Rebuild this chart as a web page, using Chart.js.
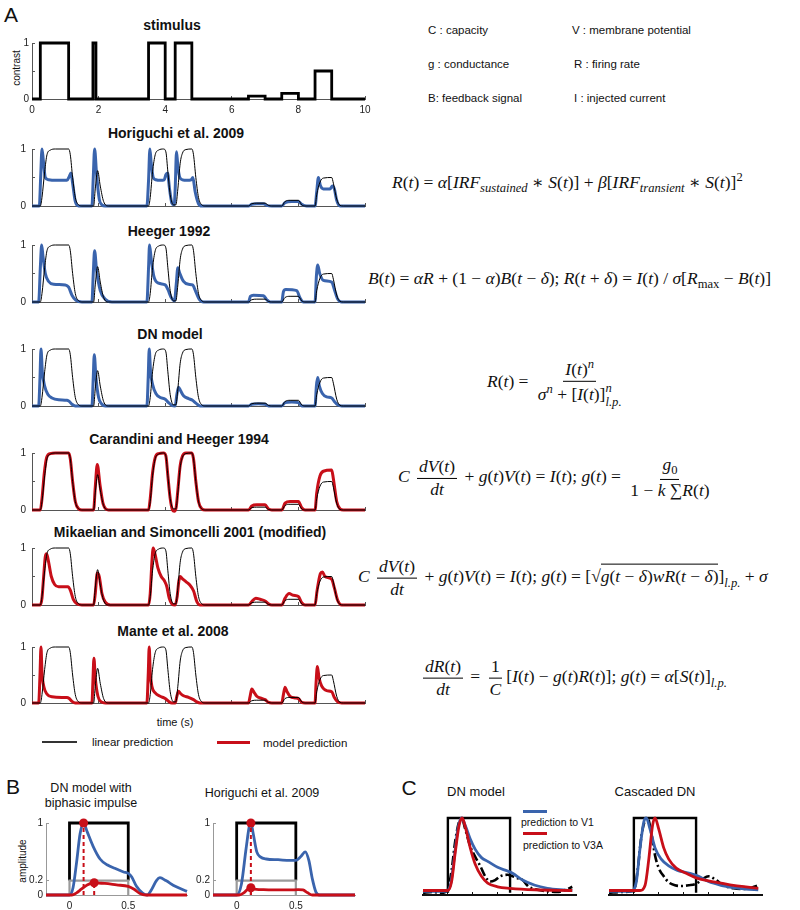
<!DOCTYPE html>
<html>
<head>
<meta charset="utf-8">
<script src="https://cdn.jsdelivr.net/npm/chart.js@4"></script>
<style>
  body { margin: 0; background: #fff; }
  #fig { position: relative; width: 800px; height: 910px; overflow: hidden; font-family: "Liberation Sans", Arial, sans-serif; color: #111; }
  .t { position: absolute; white-space: nowrap; transform: translate(0, -50%); }
  .c { position: absolute; white-space: nowrap; transform: translate(-50%, -50%); }
  .ttl { font-weight: bold; font-size: 14px; }
  .rot { position: absolute; white-space: nowrap; transform: translate(-50%, -50%) rotate(-90deg); font-size: 10px; }
  .eq { position: absolute; white-space: nowrap; transform: translate(0, -50%); font-family: "Liberation Serif", "DejaVu Serif", serif; font-size: 17.5px; font-style: italic; }
  .eq .u { font-style: normal; }
  .eq sub, .eq sup { font-size: 0.72em; }
  .frac { display: inline-flex; flex-direction: column; align-items: center; vertical-align: middle; margin: 0 3px; }
  .frac > span { padding: 0 2px; line-height: 1.25; }
  .frac > span:first-child { border-bottom: 1px solid #000; }
  .ss { display: inline-flex; flex-direction: column; vertical-align: middle; font-size: 0.72em; line-height: 1.1; }
  .ov { border-top: 1px solid #000; padding-top: 1px; }
  .line { position: absolute; }
</style>
</head>
<body>
<div id="fig">
  <div class="c" style="left:11px;top:15px;font-size:21px">A</div>
  <div class="c" style="left:13px;top:787px;font-size:21px">B</div>
  <div class="c" style="left:409px;top:788px;font-size:21px">C</div>

  <div class="c ttl" style="left:172px;top:25px">stimulus</div>
  <div class="c ttl" style="left:176px;top:133px">Horiguchi et al. 2009</div>
  <div class="c ttl" style="left:169px;top:231px">Heeger 1992</div>
  <div class="c ttl" style="left:170px;top:334px">DN model</div>
  <div class="c ttl" style="left:179px;top:439px">Carandini and Heeger 1994</div>
  <div class="c ttl" style="left:190px;top:532px">Mikaelian and Simoncelli 2001 (modified)</div>
  <div class="c ttl" style="left:173px;top:631px">Mante et al. 2008</div>
  <div class="rot" style="left:16px;top:68px">contrast</div>
  <div class="c" style="left:175px;top:722px;font-size:11px">time (s)</div>

  <div class="line" style="left:42px;top:741px;width:35px;height:1.5px;background:#333"></div>
  <div class="t" style="left:92px;top:742px;font-size:11.5px">linear prediction</div>
  <div class="line" style="left:217px;top:741px;width:33px;height:3px;background:#c80f19"></div>
  <div class="t" style="left:263px;top:743px;font-size:11.5px">model prediction</div>

  <div class="t" style="left:428px;top:30px;font-size:11.5px">C : capacity</div>
  <div class="t" style="left:572px;top:30px;font-size:11.5px">V : membrane potential</div>
  <div class="t" style="left:428px;top:64px;font-size:11.5px">g : conductance</div>
  <div class="t" style="left:574px;top:64px;font-size:11.5px">R : firing rate</div>
  <div class="t" style="left:428px;top:98px;font-size:11.5px">B: feedback signal</div>
  <div class="t" style="left:574px;top:98px;font-size:11.5px">I : injected current</div>

  <div class="eq" style="left:392px;top:183px">R<span class="u">(</span>t<span class="u">) = </span>α<span class="u">[</span>IRF<sub>sustained</sub><span class="u"> ∗ </span>S<span class="u">(</span>t<span class="u">)] + </span>β<span class="u">[</span>IRF<sub>transient</sub><span class="u"> ∗ </span>S<span class="u">(</span>t<span class="u">)]</span><sup class="u">2</sup></div>
  <div class="eq" style="left:368px;top:280px">B<span class="u">(</span>t<span class="u">) = </span>αR<span class="u"> + (1 − </span>α<span class="u">)</span>B<span class="u">(</span>t<span class="u"> − </span>δ<span class="u">); </span>R<span class="u">(</span>t<span class="u"> + </span>δ<span class="u">) = </span>I<span class="u">(</span>t<span class="u">) / </span>σ<span class="u">[</span>R<sub class="u">max</sub><span class="u"> − </span>B<span class="u">(</span>t<span class="u">)]</span></div>
  <div class="eq" style="left:487px;top:383px">R<span class="u">(</span>t<span class="u">) = </span><span class="frac"><span>I<span class="u">(</span>t<span class="u">)</span><sup>n</sup></span><span>σ<sup>n</sup><span class="u"> + [</span>I<span class="u">(</span>t<span class="u">)]</span><span class="ss"><span>n</span><span>l.p.</span></span></span></span></div>
  <div class="eq" style="left:398px;top:478px">C <span class="frac"><span>dV<span class="u">(</span>t<span class="u">)</span></span><span>dt</span></span><span class="u"> + </span>g<span class="u">(</span>t<span class="u">)</span>V<span class="u">(</span>t<span class="u">) = </span>I<span class="u">(</span>t<span class="u">); </span>g<span class="u">(</span>t<span class="u">) = </span><span class="frac"><span>g<sub class="u">0</sub></span><span><span class="u">1 − </span>k<span class="u"> ∑</span>R<span class="u">(</span>t<span class="u">)</span></span></span></div>
  <div class="eq" style="left:358px;top:578px">C <span class="frac"><span>dV<span class="u">(</span>t<span class="u">)</span></span><span>dt</span></span><span class="u"> + </span>g<span class="u">(</span>t<span class="u">)</span>V<span class="u">(</span>t<span class="u">) = </span>I<span class="u">(</span>t<span class="u">); </span>g<span class="u">(</span>t<span class="u">) = [√</span><span class="ov">g<span class="u">(</span>t<span class="u"> − </span>δ<span class="u">)</span>wR<span class="u">(</span>t<span class="u"> − </span>δ<span class="u">)</span></span><span class="u">]</span><sub>l.p.</sub><span class="u"> + </span>σ</div>
  <div class="eq" style="left:420px;top:678px"><span class="frac"><span>dR<span class="u">(</span>t<span class="u">)</span></span><span>dt</span></span><span class="u"> = </span><span class="frac"><span class="u">1</span><span>C</span></span><span class="u">[</span>I<span class="u">(</span>t<span class="u">) − </span>g<span class="u">(</span>t<span class="u">)</span>R<span class="u">(</span>t<span class="u">)]; </span>g<span class="u">(</span>t<span class="u">) = </span>α<span class="u">[</span>S<span class="u">(</span>t<span class="u">)]</span><sub>l.p.</sub></div>

  <div class="c" style="left:91px;top:788px;font-size:12.5px">DN model with</div>
  <div class="c" style="left:91px;top:803px;font-size:12.5px">biphasic impulse</div>
  <div class="c" style="left:262px;top:793px;font-size:12.5px">Horiguchi et al. 2009</div>
  <div class="rot" style="left:22px;top:861px">amplitude</div>

  <div class="c" style="left:476px;top:791px;font-size:13px">DN model</div>
  <div class="c" style="left:655px;top:791px;font-size:13px">Cascaded DN</div>
  <div class="line" style="left:523px;top:810px;width:24px;height:2.5px;background:#3a64ad"></div>
  <div class="t" style="left:521px;top:822px;font-size:10.5px">prediction to V1</div>
  <div class="line" style="left:523px;top:832px;width:24px;height:2.5px;background:#c80f19"></div>
  <div class="t" style="left:523px;top:845px;font-size:10.5px">prediction to V3A</div>
</div>

<script>
// stimulus contrast: [time (s), contrast] at each step change
var stimulus = [[0,0],[0.25,1],[1.1,0],[1.83,1],[1.92,0],[3.5,1],[4.0,0],[4.3,1],[4.8,0],[6.5,0.05],[7.0,0],[7.5,0.1],[8.0,0],[8.5,0.5],[9.0,0],[10,0]];

// linear prediction, same in every model panel
var linear = [[0,0],[0.25,0],[0.3,0.15],[0.38,0.6],[0.45,0.9],[0.55,0.98],[0.7,1],[1.1,1],[1.15,0.9],[1.22,0.5],[1.3,0.15],[1.4,0.02],[1.5,0],
  [1.85,0],[1.9,0.3],[1.97,0.62],[2.05,0.35],[2.15,0.08],[2.3,0],
  [3.5,0],[3.55,0.15],[3.62,0.6],[3.7,0.9],[3.8,0.98],[3.95,1],[4.02,0.95],[4.08,0.6],[4.15,0.2],[4.25,0.02],[4.32,0.02],[4.38,0.3],[4.45,0.75],[4.52,0.93],[4.62,0.99],[4.8,1],[4.85,0.9],[4.92,0.5],[5.0,0.15],[5.1,0.02],[5.2,0],
  [6.5,0],[6.6,0.04],[6.75,0.05],[7.0,0.05],[7.1,0.01],[7.2,0],[7.5,0],[7.6,0.08],[7.75,0.1],[8.0,0.1],[8.1,0.02],[8.2,0],
  [8.5,0],[8.55,0.2],[8.65,0.42],[8.75,0.49],[9.0,0.5],[9.05,0.4],[9.15,0.12],[9.25,0.01],[9.35,0],[10,0]];

var horiguchi = [[0,0],[0.22,0],[0.26,0.5],[0.3,1.0],[0.34,0.8],[0.4,0.5],[0.5,0.46],[0.7,0.45],[1.05,0.45],[1.12,0.52],[1.17,0.58],[1.22,0.4],[1.3,0.08],[1.4,0],
  [1.8,0],[1.84,0.5],[1.88,1.0],[1.94,0.55],[2.02,0.12],[2.1,0.02],[2.2,0],
  [3.45,0],[3.5,0.45],[3.54,1.0],[3.58,0.75],[3.64,0.5],[3.72,0.46],[3.85,0.45],[3.97,0.46],[4.02,0.55],[4.07,0.58],[4.13,0.3],[4.2,0.05],[4.27,0.02],[4.3,0.3],[4.34,0.95],[4.38,0.7],[4.44,0.5],[4.52,0.46],[4.65,0.45],[4.78,0.46],[4.83,0.5],[4.9,0.25],[5.0,0.04],[5.1,0],
  [6.5,0],[6.6,0.03],[6.75,0.04],[6.95,0.04],[7.05,0.01],[7.2,0],[7.5,0],[7.6,0.06],[7.8,0.08],[8.0,0.08],[8.1,0.03],[8.25,0],
  [8.5,0],[8.55,0.25],[8.6,0.5],[8.66,0.36],[8.75,0.3],[8.95,0.3],[9.02,0.35],[9.08,0.3],[9.15,0.1],[9.25,0],[10,0]];

var heeger = [[0,0],[0.2,0],[0.25,0.6],[0.29,1.0],[0.33,0.8],[0.4,0.5],[0.5,0.36],[0.65,0.31],[1.0,0.3],[1.1,0.26],[1.2,0.12],[1.32,0.03],[1.5,0],
  [1.8,0],[1.84,0.5],[1.88,0.9],[1.94,0.55],[2.05,0.2],[2.2,0.05],[2.4,0],
  [3.45,0],[3.5,0.6],[3.53,1.0],[3.58,0.75],[3.66,0.45],[3.8,0.33],[4.0,0.3],[4.08,0.22],[4.18,0.08],[4.28,0.02],[4.33,0.3],[4.38,0.6],[4.44,0.5],[4.55,0.36],[4.7,0.31],[4.82,0.3],[4.92,0.18],[5.02,0.05],[5.15,0],
  [6.5,0],[6.56,0.1],[6.65,0.12],[6.95,0.11],[7.05,0.04],[7.15,0],[7.5,0],[7.55,0.18],[7.62,0.22],[7.95,0.2],[8.05,0.07],[8.15,0],
  [8.5,0],[8.54,0.45],[8.58,0.65],[8.64,0.5],[8.75,0.38],[9.0,0.35],[9.08,0.22],[9.18,0.05],[9.3,0],[10,0]];

var dnModel = [[0,0],[0.2,0],[0.24,0.5],[0.27,1.0],[0.31,0.6],[0.38,0.35],[0.48,0.2],[0.6,0.14],[0.8,0.11],[1.05,0.1],[1.12,0.08],[1.2,0.03],[1.3,0],
  [1.8,0],[1.84,0.5],[1.87,0.9],[1.92,0.5],[2.0,0.15],[2.1,0.03],[2.2,0],
  [3.45,0],[3.49,0.5],[3.52,1.0],[3.56,0.6],[3.62,0.38],[3.72,0.22],[3.85,0.15],[4.0,0.12],[4.1,0.06],[4.2,0.01],[4.3,0],[4.35,0.2],[4.4,0.33],[4.46,0.27],[4.55,0.18],[4.7,0.13],[4.82,0.1],[4.92,0.05],[5.05,0],
  [6.5,0],[6.6,0.03],[6.8,0.04],[7.0,0.03],[7.1,0],[7.5,0],[7.6,0.06],[7.8,0.07],[8.0,0.06],[8.1,0],
  [8.5,0],[8.54,0.35],[8.58,0.5],[8.63,0.35],[8.72,0.22],[8.85,0.16],[9.0,0.14],[9.08,0.08],[9.18,0.02],[9.3,0],[10,0]];

var carandini = [[0,0],[0.25,0],[0.3,0.2],[0.37,0.65],[0.44,0.92],[0.55,0.99],[0.7,1.0],[1.1,1.0],[1.15,0.9],[1.22,0.5],[1.3,0.15],[1.4,0.02],[1.5,0],
  [1.85,0],[1.9,0.4],[1.96,0.8],[2.04,0.45],[2.14,0.1],[2.3,0],
  [3.5,0],[3.55,0.2],[3.62,0.65],[3.7,0.92],[3.8,0.99],[3.95,1.0],[4.02,0.95],[4.08,0.6],[4.15,0.2],[4.22,0.0],[4.27,-0.02],[4.33,0.05],[4.38,0.35],[4.45,0.78],[4.52,0.95],[4.62,1.0],[4.8,1.0],[4.85,0.9],[4.92,0.5],[5.0,0.15],[5.1,0.02],[5.2,0],
  [6.5,0],[6.6,0.07],[6.75,0.09],[7.0,0.09],[7.1,0.02],[7.2,0],[7.5,0],[7.6,0.12],[7.75,0.15],[8.0,0.15],[8.1,0.04],[8.2,0],
  [8.5,0],[8.55,0.3],[8.65,0.6],[8.75,0.68],[9.0,0.7],[9.05,0.55],[9.15,0.15],[9.25,0.02],[9.35,0],[10,0]];

var mikaelian = [[0,0],[0.25,0],[0.3,0.12],[0.35,0.5],[0.4,0.85],[0.44,0.9],[0.5,0.75],[0.58,0.5],[0.68,0.36],[0.8,0.32],[1.08,0.32],[1.15,0.26],[1.24,0.1],[1.35,0.02],[1.5,0],
  [1.85,0],[1.9,0.2],[1.96,0.56],[2.02,0.5],[2.1,0.2],[2.2,0.05],[2.35,0],
  [3.5,0],[3.55,0.2],[3.6,0.75],[3.64,1.0],[3.7,0.88],[3.78,0.65],[3.88,0.5],[3.98,0.42],[4.05,0.32],[4.12,0.12],[4.2,0.02],[4.3,0],[4.36,0.15],[4.41,0.42],[4.45,0.5],[4.52,0.46],[4.62,0.41],[4.74,0.35],[4.85,0.25],[4.95,0.06],[5.05,0],
  [6.5,0],[6.6,0.06],[6.72,0.12],[6.85,0.1],[7.0,0.07],[7.1,0.02],[7.2,0],[7.5,0],[7.6,0.12],[7.72,0.2],[7.85,0.17],[8.0,0.15],[8.1,0.04],[8.2,0],
  [8.5,0],[8.56,0.25],[8.66,0.55],[8.72,0.58],[8.8,0.5],[9.0,0.45],[9.08,0.3],[9.18,0.08],[9.3,0],[10,0]];

var mante = [[0,0],[0.2,0],[0.24,0.5],[0.27,1.0],[0.3,0.55],[0.36,0.28],[0.45,0.16],[0.6,0.11],[0.9,0.1],[1.05,0.1],[1.12,0.08],[1.2,0.03],[1.3,0],
  [1.8,0],[1.83,0.4],[1.86,0.8],[1.9,0.45],[1.98,0.12],[2.08,0.02],[2.2,0],
  [3.45,0],[3.49,0.5],[3.52,1.0],[3.55,0.55],[3.6,0.3],[3.7,0.18],[3.85,0.12],[4.0,0.08],[4.1,0.03],[4.2,0],[4.3,0],[4.35,0.12],[4.4,0.21],[4.46,0.17],[4.55,0.13],[4.7,0.1],[4.85,0.06],[4.95,0.02],[5.05,0],
  [6.5,0],[6.55,0.12],[6.6,0.25],[6.66,0.2],[6.75,0.12],[6.9,0.08],[7.0,0.06],[7.1,0.01],[7.2,0],[7.5,0],[7.55,0.15],[7.6,0.28],[7.66,0.2],[7.75,0.12],[7.9,0.09],[8.0,0.08],[8.1,0.01],[8.2,0],
  [8.5,0],[8.53,0.35],[8.57,0.65],[8.62,0.45],[8.7,0.3],[8.85,0.22],[9.0,0.2],[9.08,0.1],[9.18,0.02],[9.3,0],[10,0]];

var timeTicks = [0, 2, 4, 6, 8, 10];
var contrastTicks = [0, 0.5, 1];

// panel B: impulse responses, 1.0 and 0.2 contrast, time in s
var stepHigh = [[0,0.2],[0,1],[0.5,1],[0.5,0.2]];
var stepLow = [[0,0],[0,0.2],[0.5,0.2],[0.5,0]];
var bDnHigh = [[-0.2,0],[0,0],[0.03,0.1],[0.06,0.45],[0.09,0.85],[0.12,1.0],[0.15,0.88],[0.2,0.68],[0.26,0.5],[0.32,0.42],[0.4,0.36],[0.46,0.32],[0.5,0.3],[0.53,0.25],[0.57,0.12],[0.62,0.03],[0.66,0],[0.7,0.08],[0.74,0.2],[0.77,0.24],[0.82,0.2],[0.9,0.12],[1.0,0.05]];
var bDnLow = [[-0.2,0],[0.02,0],[0.06,0.03],[0.1,0.08],[0.15,0.14],[0.21,0.17],[0.25,0.165],[0.3,0.16],[0.4,0.14],[0.5,0.12],[0.55,0.08],[0.6,0.02],[0.65,0],[1.0,0]];
var bDnPeaks = [[0.12,1.0],[0.21,0.17]];
var bHoriHigh = [[-0.2,0],[0,0],[0.04,0.15],[0.08,0.65],[0.11,0.98],[0.12,1.0],[0.14,0.85],[0.17,0.6],[0.2,0.53],[0.25,0.5],[0.35,0.49],[0.45,0.48],[0.5,0.48],[0.54,0.53],[0.58,0.6],[0.61,0.48],[0.64,0.22],[0.67,0.04],[0.7,0],[1.0,0]];
var bHoriLow = [[-0.2,0],[0.02,0],[0.06,0.03],[0.1,0.09],[0.12,0.1],[0.15,0.08],[0.2,0.075],[0.3,0.07],[0.45,0.07],[0.52,0.075],[0.56,0.07],[0.6,0.03],[0.64,0],[1.0,0]];
var bHoriPeaks = [[0.12,1.0],[0.12,0.1]];
var ampTicks = [0, 0.2, 1];
var bTimeTicks = [0, 0.5];

// panel C: measured response (dash-dot) and model predictions
var cStim = [[0,0],[0,1],[0.5,1],[0.5,0]];
var cDnData = [[-0.2,0],[-0.12,0.01],[-0.05,0],[0,0.05],[0.03,0.3],[0.06,0.7],[0.09,0.95],[0.11,1.0],[0.14,0.85],[0.18,0.62],[0.22,0.48],[0.26,0.36],[0.3,0.22],[0.34,0.15],[0.38,0.17],[0.42,0.22],[0.48,0.24],[0.55,0.2],[0.6,0.17],[0.65,0.08],[0.72,0.04],[0.8,0.02],[0.88,0.01],[0.95,0.04],[1.0,0.08]];
var cDnV1 = [[-0.2,0.02],[-0.02,0.02],[0.02,0.1],[0.05,0.45],[0.08,0.85],[0.11,1.0],[0.14,0.9],[0.18,0.72],[0.22,0.58],[0.27,0.47],[0.32,0.42],[0.4,0.34],[0.48,0.29],[0.52,0.26],[0.6,0.17],[0.7,0.1],[0.8,0.06],[0.9,0.04],[1.0,0.03]];
var cDnV3A = [[-0.2,0.03],[0,0.03],[0.03,0.15],[0.06,0.55],[0.09,0.9],[0.115,1.0],[0.14,0.88],[0.18,0.6],[0.22,0.38],[0.27,0.22],[0.32,0.13],[0.4,0.08],[0.5,0.06],[0.7,0.04],[1.0,0.03]];
var cCasData = [[-0.2,0],[-0.1,0.01],[0,0.03],[0.03,0.3],[0.06,0.75],[0.09,0.97],[0.11,1.0],[0.14,0.8],[0.17,0.5],[0.2,0.33],[0.24,0.22],[0.28,0.14],[0.33,0.1],[0.38,0.09],[0.44,0.1],[0.5,0.12],[0.55,0.18],[0.6,0.22],[0.66,0.17],[0.72,0.1],[0.8,0.06],[0.9,0.05],[1.0,0.1]];
var cCasV1 = [[-0.2,0.02],[-0.02,0.02],[0.02,0.15],[0.05,0.6],[0.08,0.95],[0.1,1.0],[0.13,0.85],[0.17,0.6],[0.22,0.45],[0.28,0.36],[0.35,0.3],[0.45,0.26],[0.52,0.22],[0.6,0.15],[0.7,0.1],[0.8,0.07],[0.9,0.05],[1.0,0.04]];
var cCasV3A = [[-0.2,0.03],[0.05,0.03],[0.09,0.1],[0.12,0.45],[0.15,0.9],[0.17,1.0],[0.2,0.85],[0.24,0.6],[0.28,0.45],[0.34,0.33],[0.42,0.26],[0.5,0.2],[0.6,0.16],[0.7,0.13],[0.8,0.1],[0.9,0.08],[1.0,0.06]];
var cTimeTicks = [0, 0.2, 0.4, 0.6, 0.8];

var BLUE = "#3a64ad";
var RED = "#c80f19";

Chart.defaults.font.family = '"Liberation Sans", Arial, sans-serif';
Chart.defaults.color = "#222";

var fig = document.getElementById("fig");

function pts(arr) {
  return arr.map(function (p) { return { x: p[0], y: p[1] }; });
}

function curve(arr, color, width, extra) {
  var ds = {
    data: pts(arr),
    borderColor: color,
    borderWidth: width,
    pointRadius: 0,
    fill: false,
    cubicInterpolationMode: "monotone",
    clip: 6,
  };
  return Object.assign(ds, extra || {});
}

function addCanvas(left, top, w, h) {
  var c = document.createElement("canvas");
  c.width = w;
  c.height = h;
  c.style.cssText = "position:absolute;left:" + left + "px;top:" + top + "px;width:" + w + "px;height:" + h + "px";
  fig.appendChild(c);
  return c;
}

// ticks point into the plot (negative tick length), label padding compensates;
// the scale's own edge padding is zeroed so layout.padding alone sets the plot box
function axis(o, dir) {
  var isX = dir === "x";
  return {
    type: "linear",
    display: isX ? true : o.ydisplay !== false,
    min: isX ? o.xmin : o.ymin,
    max: isX ? o.xmax : o.ymax,
    afterFit: function (s) {
      if (isX) s.height = o.xh; else s.width = o.yw;
      s.paddingLeft = 0; s.paddingRight = 0; s.paddingTop = 0; s.paddingBottom = 0;
    },
    afterBuildTicks: function (s) {
      var list = isX ? o.xticks : o.yticks;
      s.ticks = list.map(function (v) { return { value: v }; });
    },
    ticks: {
      display: isX ? !!o.xlabels : true,
      autoSkip: false,
      maxRotation: 0,
      font: { size: 10 },
      color: "#222",
      padding: isX ? 8 : (o.ypad !== undefined ? o.ypad : 9),
      callback: isX ? function (v) { return String(v); } : (o.yfmt || function (v) { return String(v); }),
    },
    grid: { drawOnChartArea: false, tickLength: -3, color: o.axisColor },
    border: { color: o.axisColor, width: o.axisWidth || 1 },
  };
}

function makeChart(box, o, datasets) {
  var canvas = addCanvas(box[0], box[1], box[2], box[3]);
  return new Chart(canvas, {
    type: "line",
    data: { datasets: datasets },
    options: {
      responsive: false,
      animation: false,
      events: [],
      layout: { padding: o.pad },
      plugins: { legend: { display: false }, tooltip: { enabled: false } },
      scales: { x: axis(o, "x"), y: axis(o, "y") },
    },
  });
}

// ---- panel A ----
function panelA(y1, y0, datasets, withLabels) {
  var xh = withLabels ? 16 : 8;
  makeChart([0, y1 - 7, 372, y0 - y1 + 7 + xh], {
    pad: { top: 7, right: 7, left: 0, bottom: 0 },
    xmin: 0, xmax: 10, ymin: 0, ymax: 1,
    xh: xh, yw: 32,
    xticks: timeTicks, yticks: contrastTicks,
    xlabels: withLabels,
    ypad: withLabels ? 6 : 9,
    yfmt: function (v) { return v === 0.5 ? "" : String(v); },
    axisColor: "#555",
  }, datasets);
}

panelA(43, 99, [curve(stimulus, "#000", 2.8, { stepped: true })], true);

var models = [
  { y1: 149, y0: 206, data: horiguchi, color: BLUE },
  { y1: 245, y0: 302, data: heeger, color: BLUE },
  { y1: 349, y0: 406, data: dnModel, color: BLUE },
  { y1: 453, y0: 510, data: carandini, color: RED },
  { y1: 548, y0: 605, data: mikaelian, color: RED },
  { y1: 647, y0: 703, data: mante, color: RED },
];

models.forEach(function (m) {
  panelA(m.y1, m.y0, [
    curve(linear, "#000", 1),
    curve(m.data, m.color, 3),
  ], false);
});

// ---- panel B ----
function panelB(left, yw, padRight, high, low, peaks) {
  var dashes = peaks.map(function (p) {
    return curve([[p[0], 0], [p[0], p[1]]], RED, 2, { borderDash: [4, 3], cubicInterpolationMode: "default" });
  });
  var sets = [curve(peaks, RED, 0, { showLine: false, pointRadius: 4.5, pointBackgroundColor: RED, pointBorderWidth: 0 })]
    .concat(dashes)
    .concat([
      curve(low, RED, 2.8),
      curve(high, BLUE, 2.8),
      curve(stepLow, "#9a9a9a", 2.2, { cubicInterpolationMode: "default" }),
      curve(stepHigh, "#000", 2.8, { cubicInterpolationMode: "default" }),
    ]);
  makeChart([left, 815, 195, 96], {
    pad: { top: 8, right: padRight, left: 0, bottom: 0 },
    xmin: -0.2, xmax: 1, ymin: 0, ymax: 1,
    xh: 16, yw: yw,
    xticks: bTimeTicks, yticks: ampTicks,
    xlabels: true,
    ypad: 6,
    axisColor: "#999",
  }, sets);
}

panelB(0, 46, 8, bDnHigh, bDnLow, bDnPeaks);
panelB(170, 43, 10, bHoriHigh, bHoriLow, bHoriPeaks);

// ---- panel C ----
function panelC(left, data, v1, v3a) {
  makeChart([left, 810, 170, 89], {
    pad: { top: 8, right: 9, left: 8, bottom: 0 },
    xmin: -0.2, xmax: 1.03, ymin: -0.03, ymax: 1,
    xh: 4, yw: 0, ydisplay: false,
    xticks: cTimeTicks, yticks: [0, 1],
    xlabels: false,
    axisColor: "#111", axisWidth: 2,
  }, [
    curve(v3a, RED, 2.8),
    curve(v1, BLUE, 2.8),
    curve(data, "#000", 2.6, { borderDash: [9, 3, 2, 3] }),
    curve(cStim, "#000", 2.4, { cubicInterpolationMode: "default" }),
  ]);
}

panelC(415, cDnData, cDnV1, cDnV3A);
panelC(601, cCasData, cCasV1, cCasV3A);
</script>
</body>
</html>
